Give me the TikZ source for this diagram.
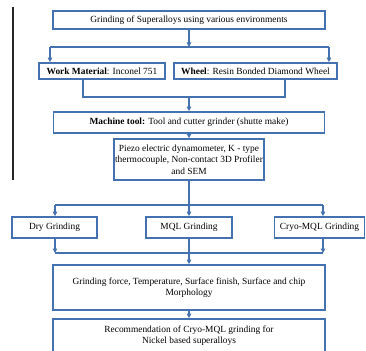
\documentclass[tikz,border=0pt]{standalone}
\usepackage{fontspec}
\setmainfont{Liberation Serif}
\usetikzlibrary{arrows.meta}
\definecolor{bl}{RGB}{68,114,176}
\begin{document}
\begin{tikzpicture}[x=1pt,y=-1pt,
  box/.style={draw=bl, line width=1.7pt, fill=white, align=center, inner sep=0pt,
    font=\fontsize{9.4}{11.3}\selectfont},
  conn/.style={draw=bl, line width=1.3pt},
  arr/.style={conn, -{Triangle[length=4.5pt,width=4.5pt]}}]
\useasboundingbox (0,0) rectangle (366,350);
\fill[white] (0,0) rectangle (366,350);
\clip (0,0) rectangle (366,350);
% left black rule
\draw[line width=1.6pt, black!85] (13,7) coordinate (ra) -- (13,180) coordinate (rb);
% boxes
\node[box, minimum width=272pt, minimum height=18pt] (top) at (189,20) {Grinding of Superalloys using various environments};
\node[box, minimum width=126pt, minimum height=16pt] (work) at (102,71) {\textbf{Work Material}: Inconel 751};
\node[box, minimum width=163pt, minimum height=16pt] (wheel) at (255.5,71) {\textbf{Wheel}: Resin Bonded Diamond Wheel};
\node[box, minimum width=271pt, minimum height=21pt] (machine) at (189,122.5) {\textbf{Machine tool:} Tool and cutter grinder (shutte make)};
\node[box, minimum width=150pt, minimum height=41pt] (piezo) at (189,159.5) {Piezo electric dynamometer, K - type\\thermocouple, Non-contact 3D Profiler\\and SEM};
\node[box, minimum width=85pt, minimum height=21pt] (dry) at (54.5,227.5) {Dry Grinding};
\node[box, minimum width=86pt, minimum height=21pt] (mql) at (189,227.5) {MQL Grinding};
\node[box, minimum width=90pt, minimum height=21pt] (cryo) at (319.5,227.5) {Cryo-MQL Grinding};
\node[box, minimum width=272pt, minimum height=45pt] (force) at (189,287.5) {Grinding force, Temperature, Surface finish, Surface and chip\\Morphology};
\node[box, minimum width=272pt, minimum height=33pt] (rec) at (189,335.5) {Recommendation of Cryo-MQL grinding for\\Nickel based superalloys};
% junction coordinates
\coordinate (j1) at (189,47);
\coordinate (j1L) at (50,47);
\coordinate (j1R) at (329,47);
\coordinate (j2L) at (83,97);
\coordinate (j2M) at (189,97);
\coordinate (j2R) at (285,97);
\coordinate (j3) at (189,205);
\coordinate (j3L) at (55,205);
\coordinate (j3R) at (323,205);
\coordinate (j4L) at (55,253);
\coordinate (j4R) at (323,253);
% connectors
\draw[arr] (top.south) -- (j1);
\draw[conn] (j1L) -- (j1R);
\draw[arr] (j1L) -- (j1L |- work.north);
\draw[arr] (j1R) -- (j1R |- wheel.north);
\draw[conn] (work.south -| j2L) -- (j2L) -- (j2R) -- (wheel.south -| j2R);
\draw[arr] (j2M) -- (machine.north);
\draw[arr] (machine.south) -- (piezo.north);
\draw[conn] (piezo.south) -- (j3);
\draw[conn] (j3L) -- (j3R);
\draw[arr] (j3L) -- (j3L |- dry.north);
\draw[arr] (j3) -- (mql.north);
\draw[arr] (j3R) -- (j3R |- cryo.north);
\draw[arr] (dry.south -| j4L) -- (j4L);
\draw[arr] (cryo.south -| j4R) -- (j4R);
\draw[conn] (j4L) -- (j4R);
\draw[arr] (mql.south) -- (force.north);
\draw[arr] (force.south) -- (rec.north);
\end{tikzpicture}
\end{document}
